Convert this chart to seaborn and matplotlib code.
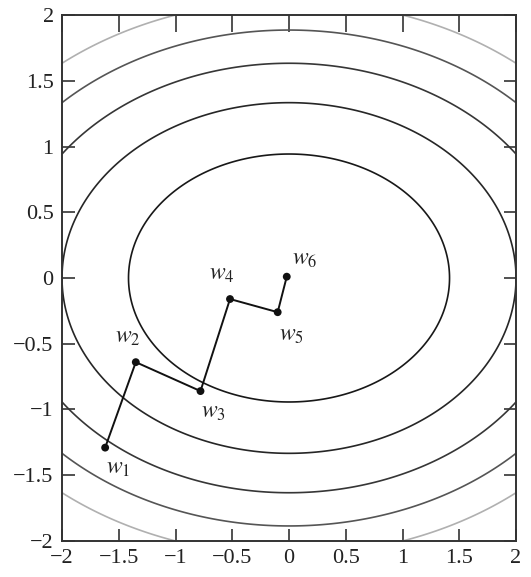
import numpy as np
import pandas as pd
import matplotlib
matplotlib.use('Agg')
import matplotlib.pyplot as plt
import seaborn as sns

# Дані: траєкторія w1..w6 та рівні контурів
w_x = [-1.62, -1.35, -0.78, -0.52, -0.10, -0.02]
w_y = [-1.29, -0.64, -0.86, -0.16, -0.26, 0.01]
w_labels = ['$w_1$', '$w_2$', '$w_3$', '$w_4$', '$w_5$', '$w_6$']
levels = [2, 4, 6, 8, 10]
level_colors = ['#181818', '#262626', '#363636', '#555555', '#b0b0b0']
ticks = [-2, -1.5, -1, -0.5, 0, 0.5, 1, 1.5, 2]
tick_labels = ['\u22122', '\u22121.5', '\u22121', '\u22120.5', '0', '0.5', '1', '1.5', '2']

sns.set_style('ticks')
plt.rcParams['font.family'] = ['Liberation Serif', 'DejaVu Serif']
plt.rcParams['mathtext.fontset'] = 'stix'

fig = plt.figure(figsize=(5.31, 5.77), dpi=100)
ax = fig.add_axes([0.1168, 0.0624, 0.855, 0.9116])

# Контури функції x^2 + 2.25 y^2
gx = np.linspace(-2.2, 2.2, 400)
X, Y = np.meshgrid(gx, gx)
Z = X**2 + 2.25 * Y**2
ax.contour(X, Y, Z, levels=levels, colors=level_colors, linewidths=1.2)

path = pd.DataFrame({'x': w_x, 'y': w_y})
sns.lineplot(data=path, x='x', y='y', sort=False, color='#111111', linewidth=1.4, ax=ax)
sns.scatterplot(data=path, x='x', y='y', color='#111111', s=32, edgecolor='none', ax=ax, zorder=5)

# Підписи точок (зсув у пікселях)
offsets = [(13, -21), (-8, 25), (13, -21), (-8, 25), (14, -23), (18, 17)]
for xi, yi, lab, off in zip(w_x, w_y, w_labels, offsets):
    ax.annotate(lab, (xi, yi), xytext=(off[0] * 0.72, off[1] * 0.72), textcoords='offset points',
                ha='center', va='center', fontsize=17, color='#222222')

ax.set_xlim(-2, 2)
ax.set_ylim(-2, 2)
ax.set_xticks(ticks)
ax.set_yticks(ticks)
ax.set_xticklabels(tick_labels)
ax.set_yticklabels(tick_labels)
ax.set_xlabel('')
ax.set_ylabel('')
ax.tick_params(direction='in', length=9, width=1.2, color='#333333', labelsize=16,
               labelcolor='#222222', top=True, right=True, pad=6)
ax.tick_params(axis='x', which='major', top=True)
for t in ax.xaxis.get_major_ticks():
    t.tick2line.set_markersize(12)
for s in ax.spines.values():
    s.set_linewidth(1.4)
    s.set_color('#333333')

fig.savefig('out.png', dpi=100)
